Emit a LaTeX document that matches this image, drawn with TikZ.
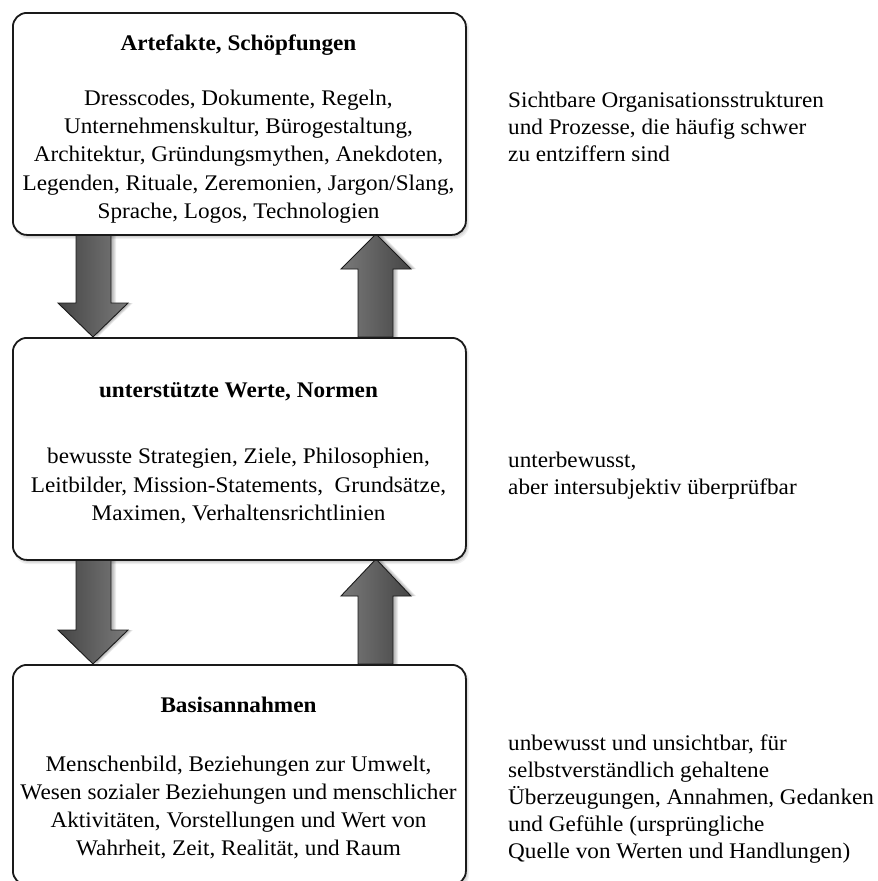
\documentclass[tikz,border=0pt]{standalone}
\usepackage{fontspec}
\setmainfont[FakeStretch=1.04]{Liberation Serif}
\usetikzlibrary{calc}
\definecolor{edge}{HTML}{1A1A1A}
\definecolor{adark}{HTML}{454545}
\definecolor{amid}{HTML}{7A7A7A}
\definecolor{alight}{HTML}{B2B2B2}
\tikzset{
  box/.style={draw=edge, line width=1.8pt, rounded corners=14pt, fill=white,
    minimum width=453pt, anchor=north west, inner sep=0pt},
  boxtitle/.style={font=\fontsize{22.3}{28.3}\selectfont\bfseries, inner sep=0pt, align=center},
  boxbody/.style={font=\fontsize{22.3}{28.3}\selectfont, inner sep=0pt, align=center},
  sidetext/.style={font=\fontsize{22.3}{27}\selectfont, inner sep=0pt, align=left, anchor=west},
  downarrow/.style={draw=edge, line width=0.9pt, line join=miter,
    left color=adark, middle color=alight, right color=amid},
  uparrow/.style={draw=edge, line width=0.9pt, line join=miter,
    left color=amid, middle color=alight, right color=adark},
}
\begin{document}
\begin{tikzpicture}[x=1pt,y=-1pt]
\useasboundingbox (0,0) rectangle (878,881);
\fill[white] (0,0) rectangle (878,881);

% box corners
\path (12,12) coordinate (artNW) (465,234) coordinate (artSE);
\path (12,337) coordinate (wertNW) (465,559) coordinate (wertSE);
\path (12,664) coordinate (basNW) (465,884) coordinate (basSE);

% shadows of boxes
\foreach \a/\b in {artNW/artSE, wertNW/wertSE, basNW/basSE}{
  \foreach \s in {0,1,...,6}{
    \fill[black, fill opacity=0.06, rounded corners=14pt]
      ($(\a)+(8-\s,9-\s)$) rectangle ($(\b)+(-2+\s,-1+\s)$);
  }
}

% arrow end points
\coordinate (d1top) at (93,234);
\coordinate (d1tip) at (93,337);
\coordinate (u1bot) at (376,337);
\coordinate (u1tip) at (376,234);
\coordinate (d2top) at (93,559);
\coordinate (d2tip) at (93,664);
\coordinate (u2bot) at (376,664);
\coordinate (u2tip) at (376,559);

% arrow shadows
\foreach \dx in {2,3,4,5}{
  \fill[black, fill opacity=0.07]
    ($(d1top)+(-17+\dx,0)$) -- ($(d1top)+(18+\dx,0)$) -- ($(d1tip)+(18+\dx,-34)$) -- ($(d1tip)+(35+\dx,-34)$)
    -- ($(d1tip)+(\dx,0)$) -- ($(d1tip)+(-35+\dx,-34)$) -- ($(d1tip)+(-17+\dx,-34)$) -- cycle;
  \fill[black, fill opacity=0.07]
    ($(d2top)+(-17+\dx,0)$) -- ($(d2top)+(18+\dx,0)$) -- ($(d2tip)+(18+\dx,-34)$) -- ($(d2tip)+(35+\dx,-34)$)
    -- ($(d2tip)+(\dx,0)$) -- ($(d2tip)+(-35+\dx,-34)$) -- ($(d2tip)+(-17+\dx,-34)$) -- cycle;
  \fill[black, fill opacity=0.07]
    ($(u1bot)+(-18+\dx,0)$) -- ($(u1bot)+(17+\dx,0)$) -- ($(u1tip)+(17+\dx,35)$) -- ($(u1tip)+(35+\dx,35)$)
    -- ($(u1tip)+(\dx,0)$) -- ($(u1tip)+(-35+\dx,35)$) -- ($(u1tip)+(-18+\dx,35)$) -- cycle;
  \fill[black, fill opacity=0.07]
    ($(u2bot)+(-18+\dx,0)$) -- ($(u2bot)+(17+\dx,0)$) -- ($(u2tip)+(17+\dx,37)$) -- ($(u2tip)+(35+\dx,37)$)
    -- ($(u2tip)+(\dx,0)$) -- ($(u2tip)+(-35+\dx,37)$) -- ($(u2tip)+(-18+\dx,37)$) -- cycle;
}

% arrows
\draw[downarrow]
  ($(d1top)+(-17,0)$) -- ($(d1top)+(18,0)$) -- ($(d1tip)+(18,-34)$) -- ($(d1tip)+(35,-34)$)
  -- (d1tip) -- ($(d1tip)+(-35,-34)$) -- ($(d1tip)+(-17,-34)$) -- cycle;
\draw[downarrow]
  ($(d2top)+(-17,0)$) -- ($(d2top)+(18,0)$) -- ($(d2tip)+(18,-34)$) -- ($(d2tip)+(35,-34)$)
  -- (d2tip) -- ($(d2tip)+(-35,-34)$) -- ($(d2tip)+(-17,-34)$) -- cycle;
\draw[uparrow]
  ($(u1bot)+(-18,0)$) -- ($(u1bot)+(17,0)$) -- ($(u1tip)+(17,35)$) -- ($(u1tip)+(35,35)$)
  -- (u1tip) -- ($(u1tip)+(-35,35)$) -- ($(u1tip)+(-18,35)$) -- cycle;
\draw[uparrow]
  ($(u2bot)+(-18,0)$) -- ($(u2bot)+(17,0)$) -- ($(u2tip)+(17,37)$) -- ($(u2tip)+(35,37)$)
  -- (u2tip) -- ($(u2tip)+(-35,37)$) -- ($(u2tip)+(-18,37)$) -- cycle;

% boxes
\node[box, minimum height=222pt] (art) at (artNW) {};
\node[box, minimum height=222pt] (wert) at (wertNW) {};
\node[box, minimum height=220pt] (bas) at (basNW) {};

% box texts
\node[boxtitle] (artT) at (238.5,45) {Artefakte, Schöpfungen};
\node[boxbody] (artB) at (238.5,156.5) {Dresscodes, Dokumente, Regeln,\\Unternehmenskultur, Bürogestaltung,\\Architektur, Gründungsmythen, Anekdoten,\\Legenden, Rituale, Zeremonien, Jargon/Slang,\\Sprache, Logos, Technologien};
\node[boxtitle] (wertT) at (238.5,392) {unterstützte Werte, Normen};
\node[boxbody] (wertB) at (238.5,486) {bewusste Strategien, Ziele, Philosophien,\\Leitbilder, Mission-Statements,\ \ Grundsätze,\\Maximen, Verhaltensrichtlinien};
\node[boxtitle] (basT) at (238.5,705) {Basisannahmen};
\node[boxbody] (basB) at (238.5,807.5) {Menschenbild, Beziehungen zur Umwelt,\\Wesen sozialer Beziehungen und menschlicher\\Aktivitäten, Vorstellungen und Wert von\\Wahrheit, Zeit, Realität, und Raum};

% side texts
\node[sidetext] (artS) at (508,127) {Sichtbare Organisationsstrukturen\\und Prozesse, die häufig schwer\\zu entziffern sind};
\node[sidetext] (wertS) at (508,476) {unterbewusst,\\aber intersubjektiv überprüfbar};
\node[sidetext] (basS) at (508,799) {unbewusst und unsichtbar, für\\selbstverständlich gehaltene\\Überzeugungen, Annahmen, Gedanken\\und Gefühle (ursprüngliche\\Quelle von Werten und Handlungen)};
\end{tikzpicture}
\end{document}
